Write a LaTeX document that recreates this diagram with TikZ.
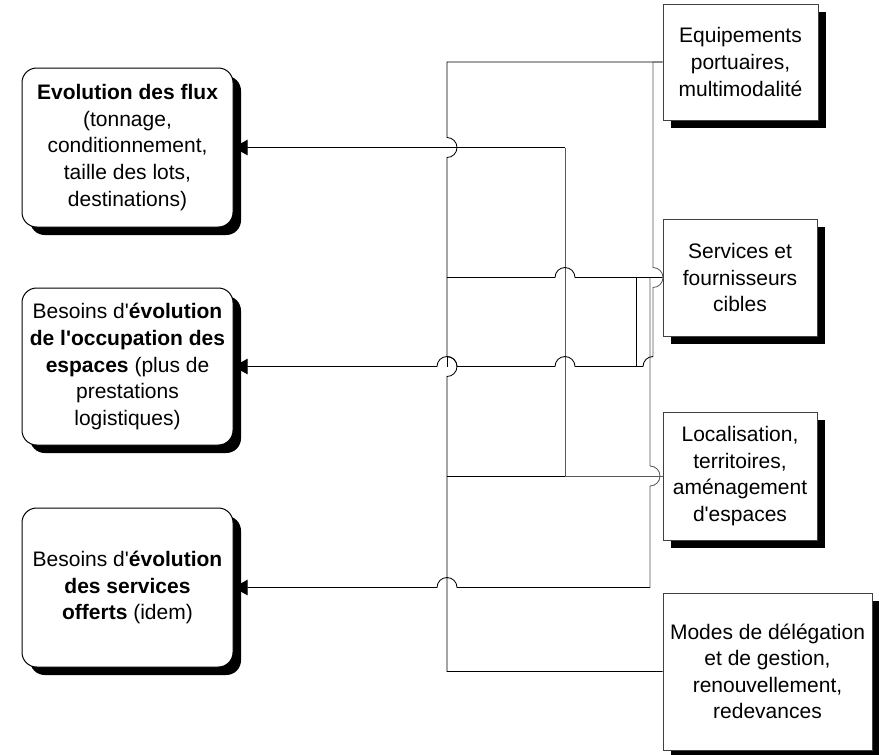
\documentclass[tikz,border=0pt]{standalone}
\usepackage{fontspec}
\setmainfont{Liberation Sans}[Ligatures=TeXOff]
\usetikzlibrary{shadows,arrows.meta}
\begin{document}
\begin{tikzpicture}[x=0.75pt,y=-0.75pt,
  txt/.style={font=\fontsize{15.75pt}{19.9pt}\selectfont, align=center, inner sep=0pt},
  shad/.style={drop shadow={shadow xshift=6pt, shadow yshift=-6pt, fill=black, opacity=1}},
  rbox/.style={txt, draw=black!75, line width=0.6pt, fill=white, shad},
  lbox/.style={txt, draw=black, line width=0.75pt, fill=white, rounded corners=11pt, shad},
  conn/.style={draw=black, line width=0.65pt},
  connl/.style={draw=black!65, line width=0.65pt},
  arr/.style={conn, -{Triangle[length=10.5pt,width=11.5pt]}},
]
\useasboundingbox (0,0) rectangle (879,754);

% right boxes
\node[rbox, minimum width=116.25pt, minimum height=87pt] (r1) at (740.5,62)
  {Equipements\\portuaires,\\multimodalité};
\node[rbox, minimum width=115.5pt, minimum height=87.75pt] (r2) at (740,277.5)
  {Services et\\fournisseurs\\cibles};
\node[rbox, minimum width=115.5pt, minimum height=96pt] (r3) at (740,476)
  {Localisation,\\territoires,\\aménagement\\d'espaces};
\node[rbox, minimum width=156.75pt, minimum height=117.75pt] (r4) at (767.5,671.5)
  {Modes de délégation\\et de gestion,\\renouvellement,\\redevances};

% left boxes
\node[lbox, minimum width=158.25pt, minimum height=119.25pt] (lA) at (127.5,147.5)
  {\textbf{Evolution des flux}\\(tonnage,\\conditionnement,\\taille des lots,\\destinations)};
\node[lbox, minimum width=158.25pt, minimum height=117.75pt] (lB) at (127.5,366.5)
  {Besoins d'\textbf{évolution}\\\textbf{de l'occupation des}\\\textbf{espaces} (plus de\\prestations\\logistiques)};
\node[lbox, minimum width=158.25pt, minimum height=119.25pt] (lC) at (127.5,587.5)
  {Besoins d'\textbf{évolution}\\\textbf{des services}\\\textbf{offerts} (idem)};

% junction coordinates
\coordinate (jA) at (565,147.5);
\coordinate (jTop) at (447,62);
\coordinate (jBot) at (447,671.5);

% main collector line (box 1 and box 4)
\draw[conn] (r1.west) -- (jTop) -- (447,137.5)
  arc[start angle=90, end angle=-90, radius=7.5pt] -- (447,356.5)
  arc[start angle=90, end angle=-90, radius=7.5pt] -- (jBot) -- (r4.west);
\draw[conn] (447,356.5) -- (447,366.5);

% box 3 line
\draw[conn] (r3.west) -- (447,476);

% box 3 -> A
\draw[connl] (r3.west) -| (jA);
\draw[arr] (jA) -- (lA.east);

% box 2 line
\draw[conn] (r2.west) -- (575,277.5)
  arc[start angle=0, end angle=180, radius=7.5pt] -- (447,277.5);
\draw[conn] (636,277.5) -- (636,366.5);

% box 2 -> C
\draw[connl] (650,277.5) -- (650,466)
  arc[start angle=90, end angle=-90, radius=7.5pt] -- (650,587.5);
\draw[arr] (650,587.5) -- (457,587.5)
  arc[start angle=0, end angle=180, radius=7.5pt] -- (lC.east);

% box 1 -> B
\draw[connl] (r1.west) -- (653,62) -- (653,267.5)
  arc[start angle=90, end angle=-90, radius=7.5pt] -- (653,356.5);
\draw[arr] (653,356.5) arc[start angle=90, end angle=180, radius=7.5pt]
  -- (575,366.5) arc[start angle=0, end angle=180, radius=7.5pt]
  -- (457,366.5) arc[start angle=0, end angle=180, radius=7.5pt]
  -- (lB.east);
\end{tikzpicture}
\end{document}
